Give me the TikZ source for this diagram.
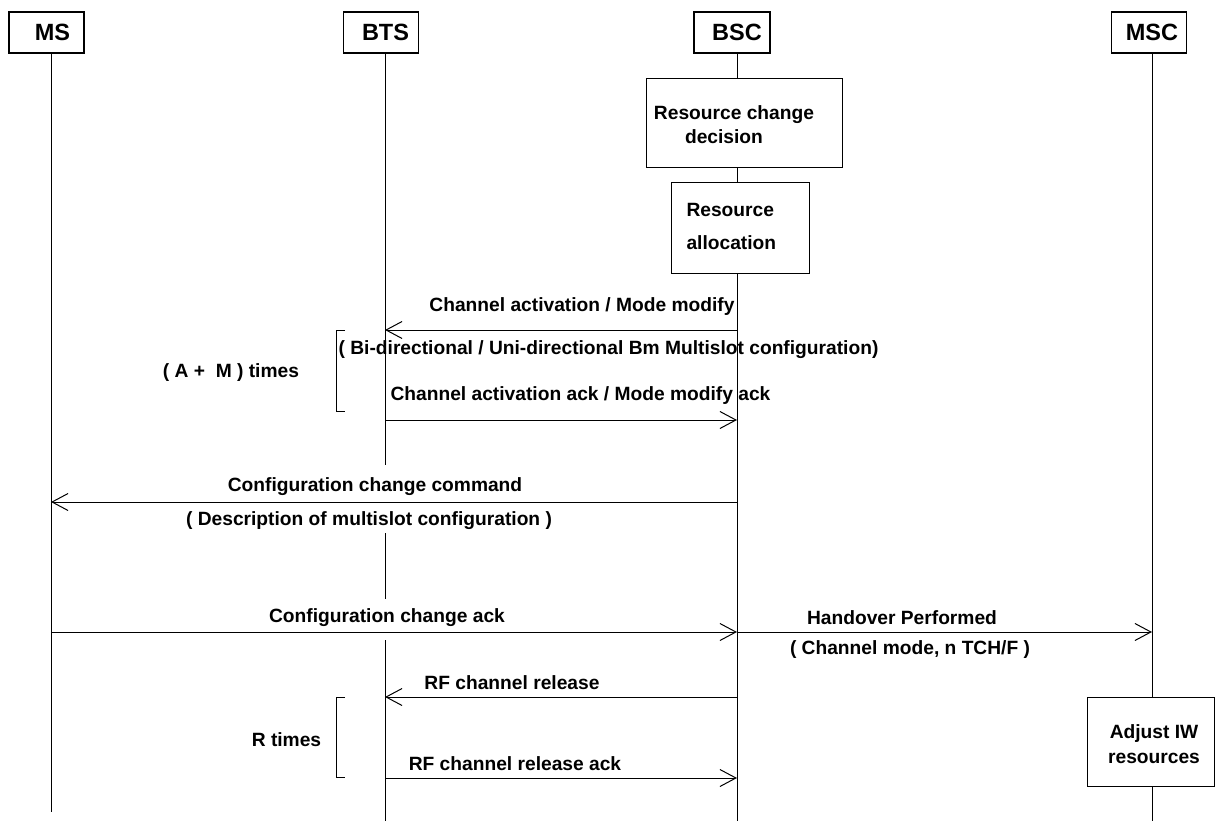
\documentclass[tikz,border=0pt]{standalone}
\usepackage{fontspec}
\setmainfont{Liberation Sans}
\usetikzlibrary{arrows.meta}
\begin{document}
\begin{tikzpicture}[x=1pt,y=-1pt,line width=1pt,
  hbox/.style={draw,fill=white,line width=1.3pt,minimum width=75pt,minimum height=41pt,inner sep=0pt},
  hdr/.style={font=\fontsize{23.5}{27}\selectfont\bfseries,inner sep=0pt},
  lbl/.style={font=\fontsize{19.2}{23}\selectfont\bfseries,inner sep=1pt},
  wlbl/.style={lbl,fill=white,inner sep=3pt},
  pbox/.style={draw,fill=white,inner sep=0pt},
  msg/.style={-{Straight Barb[length=16pt,width=17pt]}},
]
\useasboundingbox (0,0) rectangle (1215,821);

% lifeline end points
\coordinate (msT) at (51,53);   \coordinate (msB) at (51,812);
\coordinate (btsT) at (385,53); \coordinate (btsB) at (385,821);
\coordinate (btsG1) at (385,465); \coordinate (btsG2) at (385,533);
\coordinate (btsG3) at (385,599); \coordinate (btsG4) at (385,640);
\coordinate (bscT) at (737,53); \coordinate (bscB) at (737,821);
\coordinate (mscT) at (1152,53); \coordinate (mscB) at (1152,821);

% lifelines
\draw (msT) -- (msB);
\draw (btsT) -- (btsG1);
\draw (btsG2) -- (btsG3);
\draw (btsG4) -- (btsB);
\draw (bscT) -- (bscB);
\draw (mscT) -- (mscB);

% headers
\node[hbox] (msbox) at (46.5,32.5) {};
\node[hdr] (ms) at (52.5,32.5) {MS};
\node[hbox] (btsbox) at (381,32.5) {};
\node[hdr] (bts) at (385.5,32.5) {BTS};
\node[hbox,minimum width=76pt] (bscbox) at (732,32.5) {};
\node[hdr] (bsc) at (737,32.5) {BSC};
\node[hbox] (mscbox) at (1149,32.5) {};
\node[hdr] (msc) at (1152,32.5) {MSC};

% processing boxes
\node[pbox,minimum width=196pt,minimum height=89pt] (rcd) at (744,123.5) {};
\node[lbl] (rcd1) at (734,115) {Resource change};
\node[lbl] (rcd2) at (724,137) {decision};
\node[pbox,minimum width=138pt,minimum height=90pt] (ra) at (740,228) {};
\node[lbl,anchor=west] (ra1) at (685,210) {Resource};
\node[lbl,anchor=west] (ra2) at (685,243) {allocation};
\node[pbox,minimum width=127pt,minimum height=89pt] (adj) at (1150.5,741.5) {};
\node[lbl,align=center] (adjt) at (1154,744.5) {Adjust IW\\[2pt]resources};

% message coordinates
\coordinate (a1s) at (737,330); \coordinate (a1e) at (385,330);
\coordinate (a2s) at (385,420); \coordinate (a2e) at (737,420);
\coordinate (a3s) at (737,502); \coordinate (a3e) at (51,502);
\coordinate (a4s) at (51,632);  \coordinate (a4e) at (737,632);
\coordinate (a5s) at (737,632); \coordinate (a5e) at (1152,632);
\coordinate (a6s) at (737,697); \coordinate (a6e) at (385,697);
\coordinate (a7s) at (385,778); \coordinate (a7e) at (737,778);

% labels
\node[lbl] (l1) at (582,307) {Channel activation / Mode modify};
\node[lbl] (l1b) at (608.5,350) {( Bi-directional / Uni-directional Bm Multislot configuration)};
\node[lbl] (l2) at (580.5,396) {Channel activation ack / Mode modify ack};
\node[wlbl] (l3) at (375,487) {Configuration change command};
\node[wlbl] (l3b) at (369,521) {( Description of multislot configuration )};
\node[wlbl] (l4) at (387,618) {Configuration change ack};
\node[lbl] (l5) at (902,618) {Handover Performed};
\node[lbl] (l5b) at (910,650) {( Channel mode, n TCH/F )};
\node[lbl] (l6) at (512,683) {RF channel release};
\node[lbl] (l7) at (515,764) {RF channel release ack};
\node[lbl] (am) at (231,373) {( A + \ M ) times};
\node[lbl] (rt) at (286.5,740) {R times};

% arrows
\draw[msg] (a1s) -- (a1e);
\draw[msg] (a2s) -- (a2e);
\draw[msg] (a3s) -- (a3e);
\draw[msg] (a4s) -- (a4e);
\draw[msg] (a5s) -- (a5e);
\draw[msg] (a6s) -- (a6e);
\draw[msg] (a7s) -- (a7e);

% brackets
\coordinate (b1a) at (345,330); \coordinate (b1b) at (336,330);
\coordinate (b1c) at (336,411); \coordinate (b1d) at (345,411);
\draw (b1a) -- (b1b) -- (b1c) -- (b1d);
\coordinate (b2a) at (345,697); \coordinate (b2b) at (336,697);
\coordinate (b2c) at (336,777); \coordinate (b2d) at (345,777);
\draw (b2a) -- (b2b) -- (b2c) -- (b2d);
\end{tikzpicture}
\end{document}
